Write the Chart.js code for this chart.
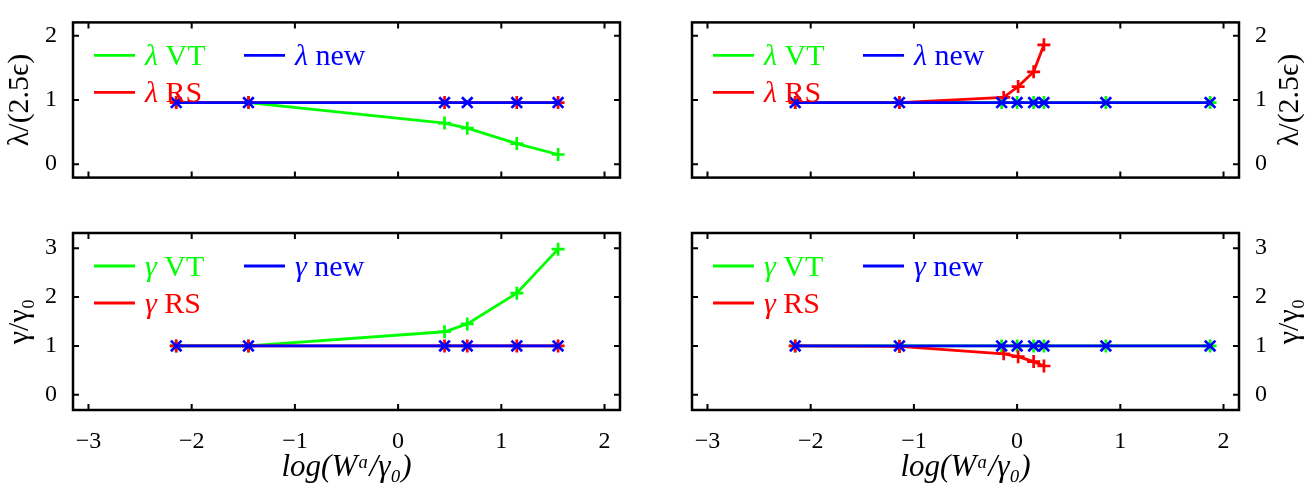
<!DOCTYPE html>
<html>
<head>
<meta charset="utf-8">
<script src="https://cdn.jsdelivr.net/npm/chart.js@4/dist/chart.umd.min.js"></script>
<style>
  body { margin: 0; background: #fff; }
  .panel { position: absolute; width: 656px; }
</style>
</head>
<body>
<div class="panel" style="left:0;top:0;height:200px"><canvas id="tl"></canvas></div>
<div class="panel" style="left:656px;top:0;height:200px"><canvas id="tr"></canvas></div>
<div class="panel" style="left:0;top:200px;height:291px"><canvas id="bl"></canvas></div>
<div class="panel" style="left:656px;top:200px;height:291px"><canvas id="br"></canvas></div>
<script>
// x positions, log(W^a / gamma0)
const xLeft = [-2.15, -1.45, 0.45, 0.67, 1.15, 1.55];
const xRight = [-2.15, -1.14, -0.15, 0.0, 0.16, 0.26, 0.86, 1.87];
const xRightRS = [-2.15, -1.14, -0.13, 0.01, 0.16, 0.26];

// lambda / (2.5 eps)
const lambdaVTLeft = [0.96, 0.96, 0.64, 0.56, 0.32, 0.15];
const lambdaRSLeft = [0.96, 0.96, 0.96, null, 0.96, 0.96];
const lambdaNewLeft = [0.96, 0.96, 0.96, 0.96, 0.96, 0.96];
const lambdaVTRight = [0.96, 0.96, 0.96, 0.96, 0.96, 0.96, 0.96, 0.96];
const lambdaRSRight = [0.96, 0.96, 1.04, 1.21, 1.44, 1.86];
const lambdaNewRight = [0.96, 0.96, 0.96, 0.96, 0.96, 0.96, 0.96, 0.96];

// gamma / gamma0
const gammaVTLeft = [1.0, 1.0, 1.29, 1.45, 2.08, 2.98];
const gammaRSLeft = [1.0, 1.0, 1.0, 1.0, 1.0, 1.0];
const gammaNewLeft = [1.0, 1.0, 1.0, 1.0, 1.0, 1.0];
const gammaVTRight = [1.0, 1.0, 1.0, 1.0, 1.0, 1.0, 1.0, 1.0];
const gammaRSRight = [1.0, 0.99, 0.84, 0.78, 0.68, 0.59];
const gammaNewRight = [1.0, 1.0, 1.0, 1.0, 1.0, 1.0, 1.0, 1.0];

const xTitle = "log(Wᵅ/γ₀)";
const lambdaTitle = "λ/(2.5ϵ)";
const gammaTitle = "γ/γ₀";

const GREEN = "#00ff00", RED = "#ff0000", BLUE = "#0000ff";
const SERIF = '"Liberation Serif", "DejaVu Serif", serif';

function pts(xs, ys) {
  return xs.map((x, i) => ({ x: x, y: ys[i] }));
}

// frame, inward ticks, legend and y title
const decorPlugin = {
  id: "decor",
  afterDraw(chart, args, o) {
    const { ctx, chartArea: a, scales } = chart;
    const x = scales.x, y = scales.y;
    ctx.save();
    ctx.strokeStyle = "#000";
    ctx.lineWidth = 2;
    ctx.beginPath();
    x.ticks.forEach((t) => {
      const px = x.getPixelForValue(t.value);
      ctx.moveTo(px, a.bottom); ctx.lineTo(px, a.bottom - 6);
      ctx.moveTo(px, a.top); ctx.lineTo(px, a.top + 6);
    });
    y.ticks.forEach((t) => {
      const py = y.getPixelForValue(t.value);
      ctx.moveTo(a.left, py); ctx.lineTo(a.left + 6, py);
      ctx.moveTo(a.right, py); ctx.lineTo(a.right - 6, py);
    });
    ctx.stroke();
    ctx.lineWidth = 2.5;
    ctx.strokeRect(a.left, a.top, a.right - a.left, a.bottom - a.top);

    // legend, two columns
    const items = [
      { label: "VT", color: GREEN, col: 0, row: 0 },
      { label: "new", color: BLUE, col: 1, row: 0 },
      { label: "RS", color: RED, col: 0, row: 1 },
    ];
    ctx.textBaseline = "alphabetic";
    ctx.textAlign = "left";
    items.forEach((it) => {
      const lx = a.left + 21 + it.col * 150;
      const ly = a.top + 33 + it.row * 37;
      ctx.strokeStyle = it.color;
      ctx.lineWidth = 2.8;
      ctx.beginPath();
      ctx.moveTo(lx, ly); ctx.lineTo(lx + 41, ly);
      ctx.stroke();
      ctx.fillStyle = it.color;
      ctx.font = "italic 30px " + SERIF;
      ctx.fillText(o.sym, lx + 51, ly + 10);
      const w = ctx.measureText(o.sym).width;
      ctx.font = "30px " + SERIF;
      ctx.fillText(" " + it.label, lx + 51 + w, ly + 10);
    });

    // rotated y title
    ctx.fillStyle = "#000";
    ctx.font = "30px " + SERIF;
    ctx.textAlign = "center";
    ctx.textBaseline = "middle";
    ctx.translate(o.titleX, (a.top + a.bottom) / 2);
    ctx.rotate(-Math.PI / 2);
    ctx.fillText(o.title, 0, 0);
    ctx.restore();
  },
};

function makePanel(id, p) {
  const datasets = [
    { data: pts(p.xs, p.nw), color: BLUE, style: "crossRot", r: 7.5 },
    { data: pts(p.rsX, p.rs), color: RED, style: "cross", r: 6.5 },
    { data: pts(p.xs, p.vt), color: GREEN, style: "cross", r: 6.5 },
  ].map((d) => ({
    data: d.data,
    showLine: true,
    spanGaps: true,
    borderColor: d.color,
    backgroundColor: d.color,
    borderWidth: 2.8,
    pointStyle: d.style,
    pointRadius: d.r,
    pointBorderWidth: 2.7,
    pointBorderColor: d.color,
  }));

  new Chart(document.getElementById(id), {
    type: "scatter",
    data: { datasets: datasets },
    options: {
      responsive: true,
      maintainAspectRatio: false,
      animation: false,
      layout: {
        padding: {
          left: p.right ? 36 : 0,
          right: p.right ? 0 : 36,
          top: p.bottom ? 33 : 10,
          bottom: 0,
        },
      },
      plugins: {
        legend: { display: false },
        tooltip: { enabled: false },
        decor: { sym: p.sym, title: p.title, titleX: p.right ? 634 : 20 },
      },
      scales: {
        x: {
          type: "linear",
          min: -3.15,
          max: 2.15,
          grid: { display: false },
          border: { display: false },
          ticks: {
            display: p.bottom,
            stepSize: 1,
            includeBounds: false,
            padding: 9,
            color: "#000",
            font: { family: SERIF, size: 24 },
            callback: (v) => String(v).replace("-", "\u2212"),
          },
          title: {
            display: p.bottom,
            text: xTitle,
            color: "#000",
            font: { family: SERIF, size: 31, style: "italic" },
            padding: { top: 0, bottom: 5 },
          },
          afterFit: (s) => { s.height = p.bottom ? 81 : 15; },
        },
        y: {
          position: p.right ? "right" : "left",
          min: p.yMin,
          max: p.yMax,
          grid: { display: false },
          border: { display: false },
          ticks: {
            stepSize: 1,
            includeBounds: false,
            padding: 8,
            color: "#000",
            font: { family: SERIF, size: 24 },
          },
          afterFit: (s) => { s.width = 73; },
        },
      },
    },
    plugins: [decorPlugin],
  });
}

makePanel("tl", {
  xs: xLeft, rsX: xLeft, vt: lambdaVTLeft, rs: lambdaRSLeft, nw: lambdaNewLeft,
  sym: "λ", title: lambdaTitle, yMin: -0.21, yMax: 2.21, right: false, bottom: false,
});
makePanel("tr", {
  xs: xRight, rsX: xRightRS, vt: lambdaVTRight, rs: lambdaRSRight, nw: lambdaNewRight,
  sym: "λ", title: lambdaTitle, yMin: -0.21, yMax: 2.21, right: true, bottom: false,
});
makePanel("bl", {
  xs: xLeft, rsX: xLeft, vt: gammaVTLeft, rs: gammaRSLeft, nw: gammaNewLeft,
  sym: "γ", title: gammaTitle, yMin: -0.31, yMax: 3.31, right: false, bottom: true,
});
makePanel("br", {
  xs: xRight, rsX: xRightRS, vt: gammaVTRight, rs: gammaRSRight, nw: gammaNewRight,
  sym: "γ", title: gammaTitle, yMin: -0.31, yMax: 3.31, right: true, bottom: true,
});
</script>
</body>
</html>
